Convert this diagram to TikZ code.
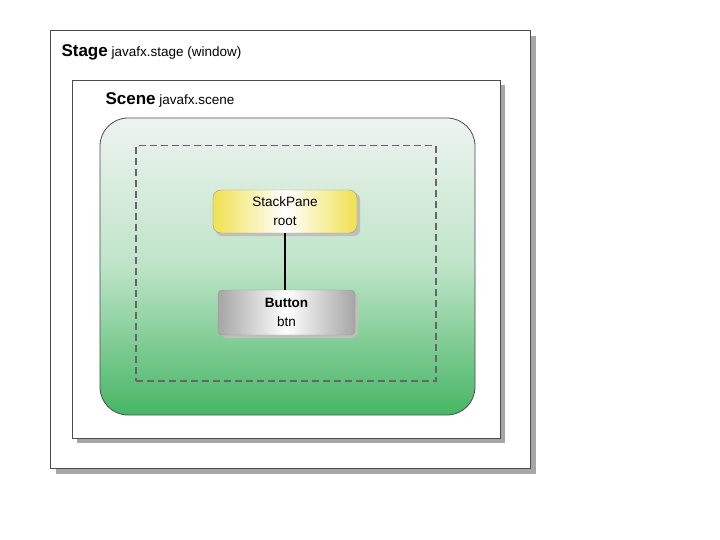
\documentclass[tikz,border=0pt]{standalone}
\usepackage{fontspec}
\setmainfont{Liberation Sans}
\definecolor{gbot}{RGB}{70,182,100}
\definecolor{gmid}{RGB}{190,228,200}
\definecolor{gtop}{RGB}{238,243,240}
\definecolor{ylw}{RGB}{240,225,80}
\begin{document}
\begin{tikzpicture}[x=1pt,y=-1pt,
  box/.style={draw=black!70,fill=white,line width=0.8pt}]
\useasboundingbox (0,0) rectangle (720,540);
% stage
\fill[black!35] (56,36) rectangle (536,474);
\node[box,minimum width=480pt,minimum height=438pt,anchor=north west,inner sep=0] (stage) at (50,30) {};
\node[anchor=west,font=\fontsize{13.5}{15}\selectfont] (st) at (58,52) {\textbf{\fontsize{17}{18}\selectfont Stage} javafx.stage (window)};
% scene
\fill[black!35] (77,85) rectangle (505,443);
\node[box,minimum width=428pt,minimum height=358pt,anchor=north west,inner sep=0] (scene) at (72,80) {};
\node[anchor=west,font=\fontsize{13.5}{15}\selectfont] (sc) at (102,100) {\textbf{\fontsize{17}{18}\selectfont Scene} javafx.scene};
% green
\shade[top color=gtop,bottom color=gbot,middle color=gmid,rounded corners=28pt,draw=black!70,line width=0.8pt] (100,118) rectangle (475,415);
\node[draw=black!60,dash pattern=on 7pt off 4pt,line width=1.5pt,minimum width=300pt,minimum height=235pt,anchor=north west,inner sep=0] (dash) at (135,145) {};
% nodes
\fill[black!25,rounded corners=6pt] (216,193) rectangle (360,236);
\shade[left color=ylw,right color=ylw,middle color=white,rounded corners=8pt,draw=black!40] (213,190) rectangle (357,233);
\node[minimum width=144pt,minimum height=43pt,inner sep=0,align=center,font=\fontsize{13.5}{19}\selectfont] (sp) at (285,211.5) {StackPane\\root};
\fill[black!25,rounded corners=6pt] (221,293) rectangle (358,338);
\shade[left color=black!35,right color=black!35,middle color=white,rounded corners=4pt,draw=black!40] (218,290) rectangle (355,335);
\node[minimum width=137pt,minimum height=45pt,inner sep=0,align=center,font=\fontsize{13.5}{19}\selectfont] (bt) at (286.5,312.5) {\textbf{Button}\\btn};
\draw[line width=1.5pt] (sp.south) -- (sp.south |- bt.north);
\end{tikzpicture}
\end{document}
